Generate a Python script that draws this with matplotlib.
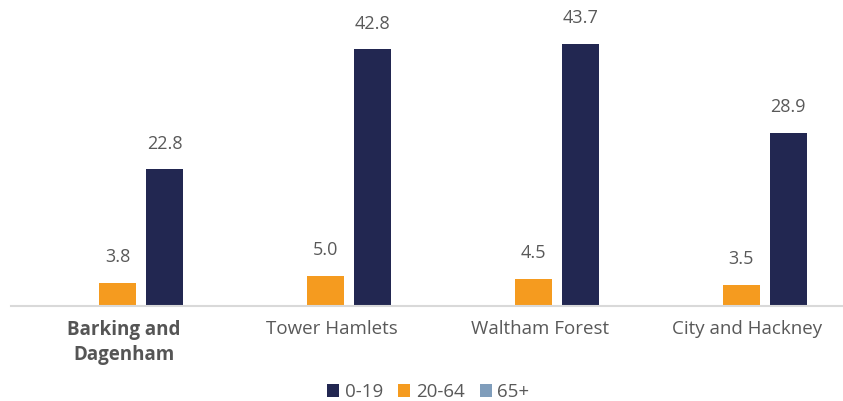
import numpy as np
import matplotlib
matplotlib.use('Agg')
from matplotlib import pyplot as plt

# data
boroughs = ['Barking and\nDagenham', 'Tower Hamlets', 'Waltham Forest', 'City and Hackney']
age_groups = ['0-19', '20-64', '65+']
vals_0_19 = [22.8, 42.8, 43.7, 28.9]
vals_20_64 = [3.8, 5.0, 4.5, 3.5]
vals_65plus = [0.0, 0.0, 0.0, 0.0]

colors = {'0-19': '#222751', '20-64': '#F59B1F', '65+': '#7F9DBB'}
txt_col = '#595959'

plt.rcParams['font.family'] = ['Open Sans', 'DejaVu Sans']

fg = plt.figure(figsize=(8.43, 4.01), dpi=100)
ax = fg.add_axes([0.013, 0.237, 0.987, 0.763])

x = np.arange(len(boroughs))
w = 0.178
off = 0.226
series = [('65+', vals_65plus, -off), ('20-64', vals_20_64, 0.0), ('0-19', vals_0_19, off)]
handles = {}
for name, vals, dx in series:
    bars = ax.bar(x + dx, vals, width=w, color=colors[name], label=name, zorder=2)
    handles[name] = bars
    if name != '65+':
        for xi, v in zip(x + dx, vals):
            ax.annotate('%.1f' % v, (xi, v), xytext=(0, 12), textcoords='offset points',
                        ha='center', va='bottom', fontsize=13, color=txt_col)

ax.set_xlim(-0.515, 3.49)
ax.set_ylim(0, 51)
ax.set_yticks([])
for s in ['top', 'right', 'left']:
    ax.spines[s].set_visible(False)
ax.spines['bottom'].set_color('#d9d9d9')
ax.spines['bottom'].set_linewidth(1.5)
ax.set_xticks(x)
ax.set_xticklabels([''] * len(boroughs))
ax.tick_params(axis='x', length=0)

# category labels, first one highlighted
for i, b in enumerate(boroughs):
    bold = i == 0
    ax.text(x[i] + 0.03, -0.045, b, transform=ax.get_xaxis_transform(), ha='center', va='top',
            fontsize=13.5, linespacing=1.35,
            fontweight='bold' if bold else 'normal',
            color='#555555' if bold else txt_col)

leg = fg.legend([handles[n] for n in age_groups], age_groups, loc='center',
                bbox_to_anchor=(0.508, 0.022), ncol=3, frameon=False, fontsize=13.5,
                handlelength=0.65, handleheight=0.65, handletextpad=0.3, columnspacing=0.8,
                labelcolor=txt_col)

fg.savefig('out.png', dpi=100)
